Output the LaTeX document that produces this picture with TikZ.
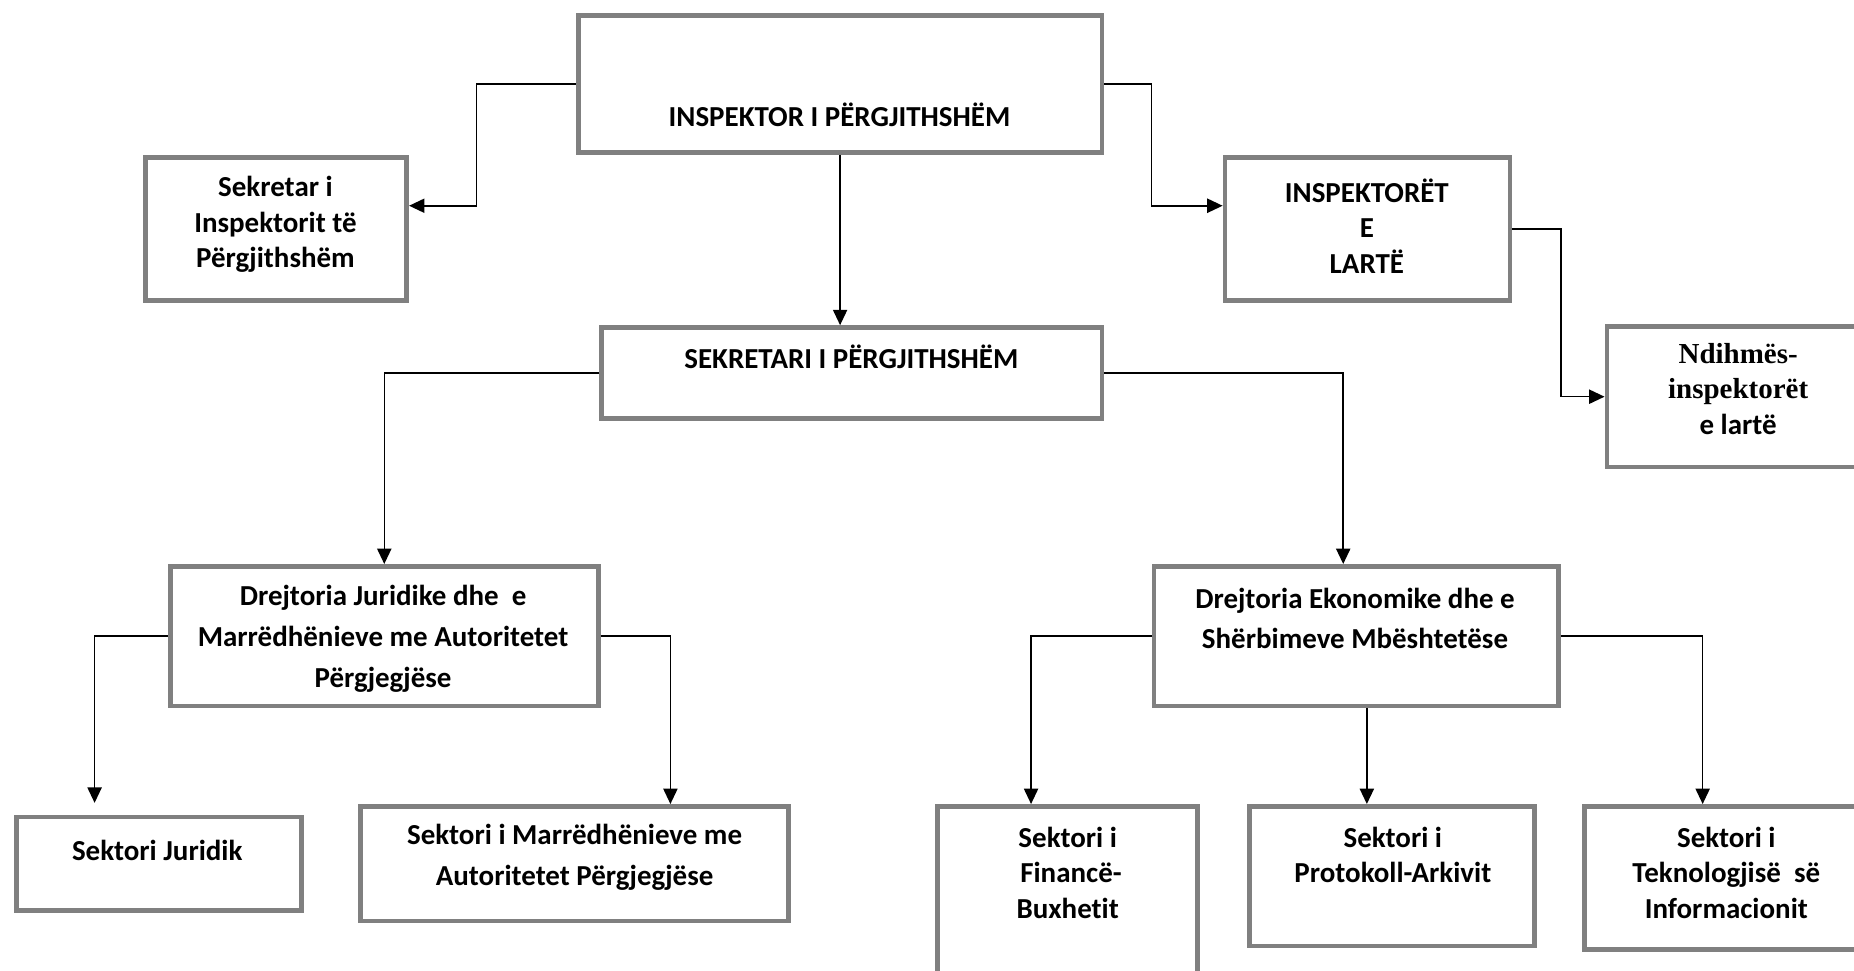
\documentclass[tikz,border=0pt]{standalone}
\usepackage{fontspec}
\setmainfont{Carlito}[Ligatures={NoCommon}]
\newfontfamily\timesbf{Liberation Serif}
\usetikzlibrary{arrows.meta}

\begin{document}
\begin{tikzpicture}[x=1pt,y=-1pt]
 % stilet
  \tikzstyle{kuti}=[rectangle,draw=black!50,line width=4pt,fill=white]
  \tikzstyle{tekst}=[align=center,font=\fontsize{24.5}{30}\selectfont\bfseries]
  \tikzstyle{tekstgjere}=[align=center,font=\fontsize{24.5}{34.5}\selectfont\bfseries]
  \tikzstyle{lidhje}=[-{Triangle[length=13pt,width=12pt]},line width=1.3pt]
  \clip (0,0) rectangle (1568,821);
 % kutite
  \node[kuti,minimum width=443pt,minimum height=116pt] (IP) at (710.5,71) {};
  \node[kuti,minimum width=221pt,minimum height=121pt] (SIP) at (233.5,193.5) {};
  \node[kuti,minimum width=241pt,minimum height=121pt] (IEL) at (1156.5,193.5) {};
  \node[kuti,minimum width=221pt,minimum height=119pt] (NIL) at (1469.5,335.5) {};
  \node[kuti,minimum width=423pt,minimum height=77pt] (SP) at (720.5,315.5) {};
  \node[kuti,minimum width=362pt,minimum height=118pt] (DJ) at (325,538) {};
  \node[kuti,minimum width=342pt,minimum height=118pt] (DE) at (1147,538) {};
  \node[kuti,minimum width=241pt,minimum height=79pt] (SJ) at (134.5,730.5) {};
  \node[kuti,minimum width=362pt,minimum height=97pt] (SM) at (486,730.5) {};
  \node[kuti,minimum width=220pt,minimum height=146pt] (SF) at (903,755) {};
  \node[kuti,minimum width=241pt,minimum height=118pt] (SPA) at (1177.5,741) {};
  \node[kuti,minimum width=238pt,minimum height=121pt] (ST) at (1459,742.5) {};
 % tekstet
  \node[tekst] (IP-t) at (710,97) {INSPEKTOR I PËRGJITHSHËM};
  \node[tekst] (SIP-t) at (233,190) {Sekretar i\\Inspektorit të\\Përgjithshëm};
  \node[tekst] (IEL-t) at (1156,191) {INSPEKTORËT\\E\\LARTË};
  \node[tekst] (NIL-t) at (1470,329) {{\timesbf Ndihmës-}\\{\timesbf inspektorët}\\e lartë};
  \node[tekst] (SP-t) at (720,302) {SEKRETARI I PËRGJITHSHËM};
  \node[tekstgjere] (DJ-t) at (324,540) {Drejtoria Juridike dhe\ \ e\\Marrëdhënieve me Autoritetet\\Përgjegjëse};
  \node[tekstgjere] (DE-t) at (1146,523) {Drejtoria Ekonomike dhe e\\Shërbimeve Mbështetëse};
  \node[tekst] (SJ-t) at (133,719) {Sektori Juridik};
  \node[tekstgjere] (SM-t) at (486,725) {Sektori i Marrëdhënieve me\\Autoritetet Përgjegjëse};
  \node[tekst] (SF-t) at (903,738) {Sektori i\\\ Financë-\\Buxhetit};
  \node[tekst] (SPA-t) at (1178,723) {Sektori i\\Protokoll-Arkivit};
  \node[tekst] (ST-t) at (1460,738) {Sektori i\\Teknologjisë\ \ së\\Informacionit};
 % lidhjet
  \draw[lidhje] (IP.west) -- ++(-84,0) |- ([yshift=19.5pt]SIP.east);
  \draw[lidhje] (IP.east) -- ++(40,0) |- ([yshift=19.5pt]IEL.west);
  \draw[lidhje] (IP.south) -- (IP.south |- SP.north);
  \draw[lidhje] (IEL.east) -- ++(41,0) |- (NIL.west);
  \draw[lidhje] (SP.west) -| (DJ.north);
  \draw[lidhje] (SP.east) -| ([xshift=-11pt]DE.north);
  \draw[lidhje] (DJ.west) -| ([xshift=-54.5pt,yshift=10pt]SJ.north);
  \draw[lidhje] (DJ.east) -| ([xshift=81pt]SM.north);
  \draw[lidhje] (DE.west) -| ([xshift=-31pt]SF.north);
  \draw[lidhje] ([xshift=9pt]DE.south) -- ([xshift=9pt]DE.south |- SPA.north);
  \draw[lidhje] (DE.east) -| ([xshift=-19pt]ST.north);
\end{tikzpicture}
\end{document}
